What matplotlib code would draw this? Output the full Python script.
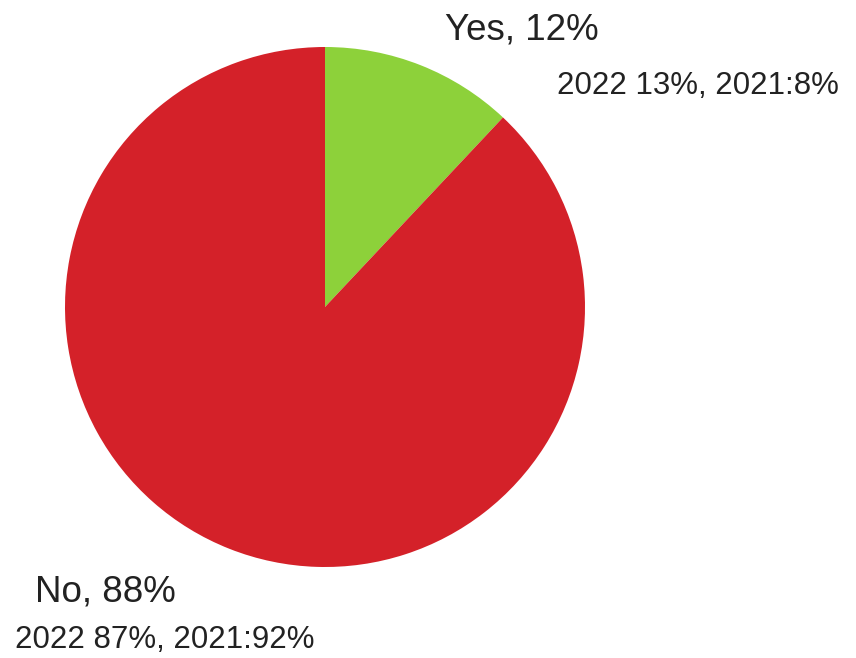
import matplotlib.pyplot as plt

# answer shares, current year
labels = ['Yes', 'No']
shares = [12, 88]
prev_2022 = [13, 87]
prev_2021 = [8, 92]
colors = ['#8DD13A', '#D42129']

plt.rcParams['font.family'] = ['Liberation Sans', 'DejaVu Sans']

fig = plt.figure(figsize=(8.56, 6.58), dpi=100)
ax = fig.add_axes([0, 0, 1, 1])

# y is flipped below, so start at -90 and go counterclock to look clockwise from the top
ax.pie(shares, colors=colors, startangle=-90, counterclock=True,
       center=(325, 307), radius=260, wedgeprops={'linewidth': 0},
       frame=True)
ax.set_xlim(0, 856)
ax.set_ylim(658, 0)  # pixel-like coords, y down
ax.set_aspect('equal')
ax.axis('off')

txt = '#222222'
# label positions (left x, baseline y) for each answer
main_pos = [(445, 39), (35, 601)]
sub_pos = [(557, 94), (15, 648)]
for i, lab in enumerate(labels):
    ax.text(*main_pos[i], f'{lab}, {shares[i]}%', fontsize=26.5, color=txt,
            ha='left', va='baseline')
    ax.text(*sub_pos[i], f'2022 {prev_2022[i]}%, 2021:{prev_2021[i]}%',
            fontsize=22.5, color=txt, ha='left', va='baseline')

fig.savefig('out.png', dpi=100, facecolor='white')
